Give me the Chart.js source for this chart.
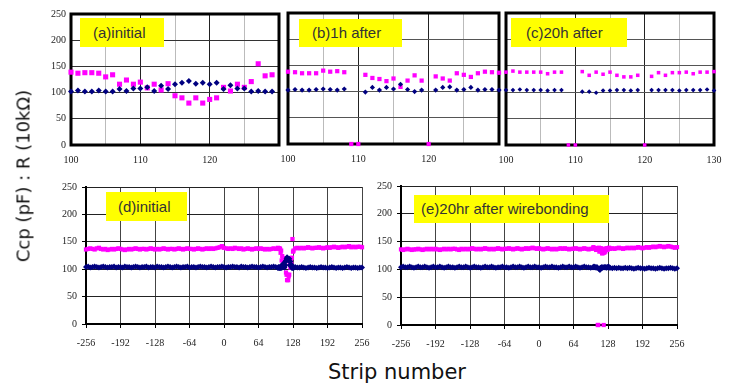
<!DOCTYPE html>
<html>
<head>
<meta charset="utf-8">
<title>Ccp and R vs strip number</title>
<script src="https://cdn.jsdelivr.net/npm/chart.js@4"></script>
<style>
  body { margin: 0; background: #fff; }
  #wrap { position: relative; width: 747px; height: 384px; overflow: hidden; background: #fff; }
  #wrap canvas { position: absolute; }
  .tag {
    position: absolute; background: #ffff00; color: #333;
    font: 15px "Liberation Sans", Arial, sans-serif; box-sizing: border-box;
    white-space: nowrap;
  }
  .ytitle {
    position: absolute; left: 23px; top: 176px; white-space: nowrap;
    font: 18px "DejaVu Sans", sans-serif; color: #111;
    transform: translate(-50%, -50%) rotate(-90deg);
  }
  .xtitle {
    position: absolute; left: 397px; top: 372px; white-space: nowrap;
    font: 21px "DejaVu Sans", sans-serif; color: #111;
    transform: translate(-50%, -50%);
  }
</style>
</head>
<body>
<div id="wrap">
  <canvas id="cA"></canvas>
  <canvas id="cB"></canvas>
  <canvas id="cC"></canvas>
  <canvas id="cD"></canvas>
  <canvas id="cE"></canvas>
  <div class="tag" style="left:80px;top:18px;width:84px;height:29px;line-height:29px;padding-left:13px">(a)initial</div>
  <div class="tag" style="left:299px;top:19px;width:103px;height:28px;line-height:28px;padding-left:13px">(b)1h after</div>
  <div class="tag" style="left:511px;top:18px;width:116px;height:29px;line-height:29px;padding-left:15px">(c)20h after</div>
  <div class="tag" style="left:106px;top:192px;width:81px;height:29px;line-height:29px;padding-left:12px">(d)initial</div>
  <div class="tag" style="left:414px;top:195px;width:195px;height:28px;line-height:28px;padding-left:7px">(e)20hr after wirebonding</div>
  <div class="ytitle">Ccp (pF) : R (10kΩ)</div>
  <div class="xtitle">Strip number</div>
</div>
<script>
// close-up strips 100..130
let closeStrips = [100,101,102,103,104,105,106,107,108,109,110,111,112,113,114,115,
  116,117,118,119,120,121,122,123,124,125,126,127,128,129,130];

// (a) initial, strips 100..129
let ccpA = [139,137,138,138,137,130,134,116,124,116,120,109,116,105,117,94,90,80,90,80,
  87,90,110,103,116,110,121,155,132,134];
let rA = [102,104,102,102,104,102,102,107,103,108,108,110,103,113,107,116,119,122,117,119,
  116,119,107,114,108,108,102,103,102,102];

// (b) 1h after, strips 100..130 (0 = dead strip)
let ccpB = [138,137,135,135,135,140,138,139,137,0,0,132,126,124,120,125,109,121,131,121,
  0,129,125,121,135,132,128,135,138,137,136];
let rB = [103,104,103,103,104,105,104,103,105,null,null,99,108,103,108,105,114,104,100,103,
  null,103,108,109,103,104,108,103,104,104,103];

// (c) 20h after, strips 100..130
let ccpC = [138,140,138,138,138,138,135,138,138,0,0,139,132,138,134,138,132,129,129,132,
  0,130,137,132,137,137,138,135,138,138,139];
let rC = [104,104,105,104,104,104,103,104,104,null,null,101,101,99,103,103,104,104,103,104,
  null,104,104,104,104,103,104,104,104,105,103];

// full sensor, every 4th strip outside the close-up window
let leftStrips = [];
for (let s = -256; s <= 96; s += 4) leftStrips.push(s);
let rightStrips = [];
for (let s = 132; s <= 256; s += 4) rightStrips.push(s);

// (d) initial
let ccpDLeft = [136,137,138,137,136,138,139,137,136,137,
  135,136,137,136,137,138,137,136,135,136,
  137,136,137,138,137,136,137,137,136,137,
  138,137,136,137,136,137,138,137,136,137,
  137,136,137,138,137,136,137,138,137,137,
  136,137,138,137,136,137,138,137,138,137,
  138,139,140,142,139,138,137,138,137,139,
  138,137,138,136,137,138,137,136,137,138,
  137,138,137,136,137,136,137,138,137];
let rDLeft = [104,105,103,104,105,104,103,104,105,104,
  103,104,104,105,103,104,104,103,105,104,
  104,103,104,105,104,103,104,104,105,103,
  104,104,103,105,104,104,103,104,105,104,
  103,104,105,104,103,104,104,105,103,104,
  104,103,104,105,104,104,103,104,105,104,
  103,104,104,105,104,103,104,104,105,104,
  104,103,105,104,104,103,104,105,104,104,
  103,104,105,104,103,104,104,105,104];
let ccpDRight = [138,139,138,139,138,139,140,139,138,139,
  139,140,139,138,139,140,139,140,141,140,
  139,140,141,140,141,142,140,141,140,141,141,140];
let rDRight = [104,103,103,104,103,102,103,104,103,103,
  102,103,104,103,103,102,103,104,103,102,
  103,103,102,103,104,103,102,103,103,102,103,103];

// (e) 20hr after wirebonding
let ccpELeft = [136,135,136,137,136,135,136,136,137,136,
  135,136,137,136,137,136,137,136,135,136,
  137,136,137,136,137,137,136,135,137,136,
  137,136,137,138,137,136,137,136,137,138,
  137,136,137,136,137,138,137,136,137,137,
  138,137,136,137,138,137,136,137,138,137,
  138,139,138,137,138,137,136,137,138,137,
  136,137,136,137,138,137,138,137,136,137,
  137,138,137,136,137,138,137,136,137];
let rELeft = [104,105,104,104,105,104,103,104,105,104,
  104,105,104,103,104,105,104,104,105,104,
  103,104,105,104,104,103,104,105,104,104,
  105,104,103,104,105,104,104,103,104,105,
  104,104,105,104,103,104,104,105,104,104,
  103,104,105,104,104,105,104,103,104,105,
  104,104,105,104,104,103,104,105,104,104,
  105,104,104,103,104,105,104,104,105,104,
  104,105,104,103,104,105,104,104,103];
let ccpERight = [137,138,137,138,139,138,137,138,139,138,
  139,138,139,140,139,138,139,140,139,140,
  141,140,141,142,141,140,141,142,141,140,139,140];
let rERight = [103,102,103,102,103,102,102,103,102,103,
  102,101,102,103,102,102,101,102,103,102,
  102,101,102,103,102,101,102,102,103,102,101,102];

const PINK = '#ff00ff';
const NAVY = '#000080';
const tickFont = { family: '"Liberation Serif", "DejaVu Serif", serif', size: 10 };

function toPoints(xs, ys) {
  let pts = [];
  ys.forEach((v, i) => {
    if (v !== null) pts.push({ x: xs[i], y: v });
  });
  return pts;
}

// thick box round the plot area of the close-up panels
const frame = {
  id: 'frame',
  beforeDatasetsDraw(chart, args, opts) {
    if (!opts.width) return;
    const a = chart.chartArea;
    const ctx = chart.ctx;
    ctx.save();
    ctx.strokeStyle = '#000';
    ctx.lineWidth = opts.width;
    ctx.strokeRect(a.left, a.top, a.right - a.left, a.bottom - a.top);
    ctx.restore();
  }
};

function makePanel(id, box, p) {
  let cv = document.getElementById(id);
  cv.width = box.w;
  cv.height = box.h;
  cv.style.left = box.x + 'px';
  cv.style.top = box.y + 'px';

  return new Chart(cv, {
    type: 'scatter',
    data: {
      datasets: [{
        data: p.r,
        pointStyle: 'rectRot',
        pointRadius: p.rSize,
        pointBackgroundColor: NAVY,
        backgroundColor: NAVY,
        pointBorderWidth: 0,
        clip: false
      }, {
        data: p.ccp,
        pointStyle: 'rect',
        pointRadius: p.cSize,
        pointBackgroundColor: PINK,
        backgroundColor: PINK,
        pointBorderWidth: 0,
        clip: false
      }]
    },
    options: {
      responsive: false,
      animation: false,
      events: [],
      layout: { padding: { top: box.pt, right: box.pr, left: 0, bottom: 0 } },
      plugins: {
        legend: { display: false },
        tooltip: { enabled: false },
        frame: { width: p.frame }
      },
      scales: {
        x: {
          type: 'linear',
          min: p.xMin,
          max: p.xMax,
          ticks: {
            stepSize: p.xStep,
            autoSkip: false,
            maxRotation: 0,
            font: tickFont,
            color: '#222',
            padding: 9,
            callback: p.xLabel
          },
          grid: {
            color: p.xGrid,
            lineWidth: 1,
            drawTicks: p.ticks,
            tickLength: 4,
            tickColor: '#000'
          },
          border: { display: p.ticks, color: '#000', width: 2 },
          afterFit: s => { s.height = box.xh; s.paddingLeft = 0; s.paddingRight = 0; }
        },
        y: {
          min: 0,
          max: 250,
          ticks: {
            stepSize: 50,
            display: p.yLabels,
            font: tickFont,
            color: '#222',
            padding: 5
          },
          grid: {
            color: p.yGridColor,
            lineWidth: 1,
            drawTicks: p.ticks,
            tickLength: 4,
            tickColor: '#000'
          },
          border: { display: p.ticks, color: '#000', width: 2 },
          afterFit: s => { s.width = box.yw; }
        }
      }
    },
    plugins: [frame]
  });
}

// close-up grid: every 5 strips, darker on the tens
const closeGrid = ctx => (ctx.tick && ctx.tick.value % 10 === 0) ? '#222' : '#bbb';
const closeLabel = last => v => (v % 10 === 0 && v <= last) ? v : '';

makePanel('cA', { x: 30, y: 0, w: 262, h: 170, yw: 41, pr: 13, pt: 14, xh: 25 }, {
  r: toPoints(closeStrips, rA), ccp: toPoints(closeStrips, ccpA),
  rSize: 3, cSize: 3.6, frame: 3, ticks: false, yLabels: true,
  xMin: 100, xMax: 130, xStep: 5, xLabel: closeLabel(120),
  xGrid: closeGrid, yGridColor: '#333'
});
makePanel('cB', { x: 280, y: 0, w: 232, h: 170, yw: 8, pr: 13, pt: 13, xh: 26 }, {
  r: toPoints(closeStrips, rB), ccp: toPoints(closeStrips, ccpB),
  rSize: 2.6, cSize: 3, frame: 3, ticks: false, yLabels: false,
  xMin: 100, xMax: 130, xStep: 5, xLabel: closeLabel(120),
  xGrid: closeGrid, yGridColor: '#555'
});
makePanel('cC', { x: 498, y: 0, w: 230, h: 170, yw: 8, pr: 14, pt: 13, xh: 25 }, {
  r: toPoints(closeStrips, rC), ccp: toPoints(closeStrips, ccpC),
  rSize: 2.3, cSize: 2.5, frame: 3, ticks: false, yLabels: false,
  xMin: 100, xMax: 130, xStep: 5, xLabel: closeLabel(130),
  xGrid: closeGrid, yGridColor: '#555'
});

// full-sensor panels: coarse strips plus the close-up window
let ccpD = toPoints(leftStrips, ccpDLeft).concat(toPoints(closeStrips, ccpA), toPoints(rightStrips, ccpDRight));
let rD = toPoints(leftStrips, rDLeft).concat(toPoints(closeStrips, rA), toPoints(rightStrips, rDRight));
let ccpE = toPoints(leftStrips, ccpELeft).concat(toPoints(closeStrips, ccpC), toPoints(rightStrips, ccpERight));
let rE = toPoints(leftStrips, rELeft).concat(toPoints(closeStrips, rC), toPoints(rightStrips, rERight));

makePanel('cD', { x: 40, y: 175, w: 340, h: 180, yw: 46, pr: 18, pt: 12, xh: 31 }, {
  r: rD, ccp: ccpD, rSize: 3, cSize: 3, frame: 0, ticks: true, yLabels: true,
  xMin: -256, xMax: 256, xStep: 64, xLabel: v => v,
  xGrid: '#444', yGridColor: '#222'
});
makePanel('cE', { x: 360, y: 175, w: 330, h: 180, yw: 41, pr: 13, pt: 11, xh: 30 }, {
  r: rE, ccp: ccpE, rSize: 3, cSize: 3, frame: 0, ticks: true, yLabels: true,
  xMin: -256, xMax: 256, xStep: 64, xLabel: v => v,
  xGrid: '#444', yGridColor: '#222'
});
</script>
</body>
</html>
